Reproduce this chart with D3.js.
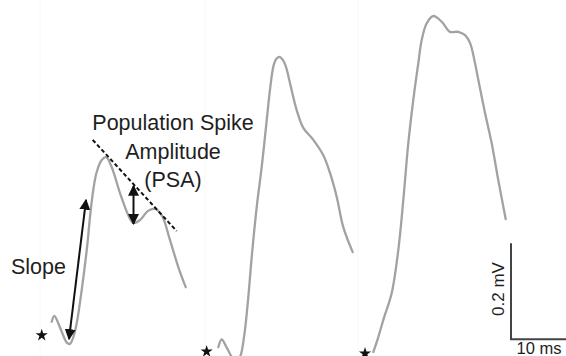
<!DOCTYPE html>
<html>
<head>
<meta charset="utf-8">
<script src="https://cdn.jsdelivr.net/npm/d3@7"></script>
<style>
  body { margin: 0; background: #fff; }
  svg { display: block; }
  text { font-family: "Liberation Sans", Arial, sans-serif; fill: #1e1e1e; }
</style>
</head>
<body>
<div id="chart"></div>
<script>
// field potential traces, time in ms, voltage in mV
var trace1_t = [9.23, 9.70, 10.89, 11.96, 12.50, 13.04, 13.70, 14.59, 15.59, 16.07, 16.66, 17.27, 18.16, 18.93, 19.95, 21.43, 22.91, 23.80, 25.00, 26.43, 27.68, 28.88, 30.36, 31.84, 33.16];
var trace1_v = [0.038, 0.050, 0.021, -0.006, -0.008, 0.004, 0.035, 0.104, 0.198, 0.256, 0.313, 0.350, 0.375, 0.381, 0.360, 0.306, 0.260, 0.244, 0.250, 0.269, 0.273, 0.260, 0.208, 0.152, 0.110];

var trace2_t = [38.98, 39.59, 40.45, 41.25, 41.96, 42.86, 43.57, 44.29, 44.95, 45.84, 46.73, 47.63, 48.21, 48.80, 49.29, 49.88, 50.54, 51.07, 51.79, 52.98, 54.16, 55.95, 57.73, 58.93, 60.13, 61.30, 62.98];
var trace2_v = [-0.015, 0.001, -0.015, -0.033, -0.046, -0.035, 0.006, 0.083, 0.173, 0.277, 0.360, 0.458, 0.521, 0.569, 0.585, 0.590, 0.583, 0.569, 0.535, 0.479, 0.442, 0.417, 0.385, 0.348, 0.298, 0.235, 0.183];

var trace3_t = [66.66, 67.50, 68.45, 69.95, 71.13, 72.02, 72.91, 73.80, 74.70, 75.30, 76.20, 77.38, 78.88, 80.36, 81.84, 83.04, 83.93, 84.82, 85.41, 86.61, 87.80, 88.98, 90.30];
var trace3_v = [-0.025, 0.004, 0.042, 0.098, 0.188, 0.292, 0.410, 0.500, 0.577, 0.625, 0.660, 0.675, 0.663, 0.642, 0.642, 0.635, 0.619, 0.577, 0.542, 0.473, 0.410, 0.333, 0.252];

// stimulus markers
var stim_t = [7.45, 36.9, 65.18];
var stim_v = [0.010, -0.024, -0.028];

// panel separators (ms)
var panel_t = [7.15, 36.6, 63.9];

// annotations
var slope_t = [12.32, 15.36];
var slope_v = [0.002, 0.292];
var psa_t = [23.84, 23.84];
var psa_v = [0.242, 0.321];
var tangent_t = [16.55, 31.55];
var tangent_v = [0.417, 0.227];

// scale bar
var bar_origin = [91.25, 0.0015];
var bar_ms = 10;
var bar_mv = 0.2;

var chart_width  = 566;
var chart_height = 356;

var svg = d3.select('#chart')
    .append('svg')
    .attr('width', chart_width)
    .attr('height', chart_height);

var x_scale = d3.scaleLinear()
    .domain([0, 101.07])
    .range([0, chart_width]);

var y_scale = d3.scaleLinear()
    .domain([0, 0.7])
    .range([340, 4]);

// faint panel edges
svg.selectAll('.panel')
    .data(panel_t)
    .enter()
    .append('line')
    .attr('x1', function(d){ return x_scale(d); })
    .attr('x2', function(d){ return x_scale(d); })
    .attr('y1', 0)
    .attr('y2', chart_height)
    .attr('stroke', '#f8f8f8')
    .attr('stroke-width', 1);

var line = d3.line()
    .x(function(d){ return x_scale(d[0]); })
    .y(function(d){ return y_scale(d[1]); })
    .curve(d3.curveCatmullRom.alpha(0.5));

var traces = [
    d3.zip(trace1_t, trace1_v),
    d3.zip(trace2_t, trace2_v),
    d3.zip(trace3_t, trace3_v)
];

svg.selectAll('.trace')
    .data(traces)
    .enter()
    .append('path')
    .attr('class', 'trace')
    .attr('d', line)
    .attr('fill', 'none')
    .attr('stroke', '#a2a2a2')
    .attr('stroke-width', 2.3)
    .attr('stroke-linejoin', 'round')
    .attr('stroke-linecap', 'round');

// stars
svg.selectAll('.star')
    .data(d3.zip(stim_t, stim_v))
    .enter()
    .append('path')
    .attr('class', 'star')
    .attr('d', d3.symbol().type(d3.symbolStar).size(46))
    .attr('transform', function(d){
        return 'translate(' + x_scale(d[0]) + ',' + y_scale(d[1]) + ')';
    })
    .attr('fill', '#111');

// arrowheads
var defs = svg.append('defs');
defs.append('marker')
    .attr('id', 'head')
    .attr('viewBox', '0 0 10 10')
    .attr('refX', 9)
    .attr('refY', 5)
    .attr('markerWidth', 11)
    .attr('markerHeight', 11)
    .attr('markerUnits', 'userSpaceOnUse')
    .attr('orient', 'auto-start-reverse')
    .append('path')
    .attr('d', 'M0,0 L10,5 L0,10 Z')
    .attr('fill', '#111');

function arrow(ts, vs){
    svg.append('line')
        .attr('x1', x_scale(ts[0]))
        .attr('y1', y_scale(vs[0]))
        .attr('x2', x_scale(ts[1]))
        .attr('y2', y_scale(vs[1]))
        .attr('stroke', '#111')
        .attr('stroke-width', 2)
        .attr('marker-start', 'url(#head)')
        .attr('marker-end', 'url(#head)');
}
arrow(slope_t, slope_v);
arrow(psa_t, psa_v);

// tangent line
svg.append('line')
    .attr('x1', x_scale(tangent_t[0]))
    .attr('y1', y_scale(tangent_v[0]))
    .attr('x2', x_scale(tangent_t[1]))
    .attr('y2', y_scale(tangent_v[1]))
    .attr('stroke', '#111')
    .attr('stroke-width', 2)
    .attr('stroke-dasharray', '4,2.5');

// labels
var psa_lines = ['Population Spike', 'Amplitude', '(PSA)'];
svg.selectAll('.psa-label')
    .data(psa_lines)
    .enter()
    .append('text')
    .attr('class', 'psa-label')
    .attr('x', 173)
    .attr('y', function(d, i){ return 130 + i * 28.7; })
    .attr('text-anchor', 'middle')
    .attr('font-size', 21.5)
    .text(function(d){ return d; });

svg.append('text')
    .attr('x', 11)
    .attr('y', 273.5)
    .attr('font-size', 21.5)
    .text('Slope');

// scale bar
var bx = x_scale(bar_origin[0]);
var by = y_scale(bar_origin[1]);
svg.append('path')
    .attr('d', 'M' + bx + ',' + y_scale(bar_origin[1] + bar_mv) +
               'L' + bx + ',' + by +
               'L' + x_scale(bar_origin[0] + bar_ms) + ',' + by)
    .attr('fill', 'none')
    .attr('stroke', '#444')
    .attr('stroke-width', 2);

svg.append('text')
    .attr('transform', 'translate(504,289) rotate(-90)')
    .attr('text-anchor', 'middle')
    .attr('font-size', 17)
    .text('0.2 mV');

svg.append('text')
    .attr('x', x_scale(bar_origin[0] + bar_ms / 2))
    .attr('y', 353.5)
    .attr('text-anchor', 'middle')
    .attr('font-size', 16.5)
    .text('10 ms');
</script>
</body>
</html>
